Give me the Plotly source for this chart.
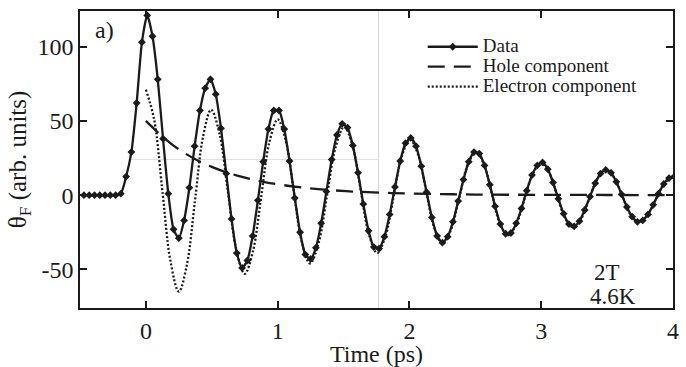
import plotly.graph_objects as go

# ---- Data ----
time_ps = [-0.47, -0.43, -0.39, -0.35, -0.31, -0.27, -0.23, -0.19, -0.15, -0.11, -0.07, -0.03,
           0.01, 0.05, 0.09, 0.13, 0.17, 0.21, 0.25, 0.29, 0.33, 0.37, 0.41, 0.45, 0.49,
           0.53, 0.57, 0.61, 0.65, 0.69, 0.73, 0.77, 0.81, 0.85, 0.89, 0.93, 0.97,
           1.01, 1.05, 1.09, 1.13, 1.17, 1.21, 1.25, 1.29, 1.33, 1.37, 1.41, 1.45, 1.49,
           1.53, 1.57, 1.61, 1.65, 1.69, 1.73, 1.77, 1.81, 1.85, 1.89, 1.93, 1.97,
           2.01, 2.05, 2.09, 2.13, 2.17, 2.21, 2.25, 2.29, 2.33, 2.37, 2.41, 2.45, 2.49,
           2.53, 2.57, 2.61, 2.65, 2.69, 2.73, 2.77, 2.81, 2.85, 2.89, 2.93, 2.97,
           3.01, 3.05, 3.09, 3.13, 3.17, 3.21, 3.25, 3.29, 3.33, 3.37, 3.41, 3.45, 3.49,
           3.53, 3.57, 3.61, 3.65, 3.69, 3.73, 3.77, 3.81, 3.85, 3.89, 3.93, 3.97, 4.01]

data_theta = [0, 0, 0, 0, 0, 0, 0, 1, 12.5, 29, 62, 103,
              121, 107, 78, 38, 1, -23, -29, -17, 5, 33, 57, 72, 78,
              68, 45, 14.5, -16, -39, -49, -44, -27.5, -3.5, 22.5, 44.5, 57,
              57, 44.5, 23, -2, -25, -40, -43, -35.5, -19, 2.5, 24, 40.5, 48,
              45.5, 33.5, 15, -6, -24, -35, -36, -28, -13, 5.5, 23, 35,
              38.5, 33, 19.5, 2, -15, -27.5, -32, -28, -18, -4, 10.5, 22.5, 29,
              28, 20, 7, -7.5, -19.5, -26, -25.5, -19, -9, 3, 13.5, 20,
              22, 17.5, 8.5, -2.5, -12.5, -19.5, -21, -17.5, -10, -1, 8, 14.5, 17,
              15, 9, 0.5, -8, -14.5, -18, -17, -13, -6.5, 1, 7.5, 11.5, 12.5]

hole_t = [0.0, 0.1, 0.2, 0.3, 0.4, 0.5, 0.6, 0.7, 0.8, 0.9, 1.0, 1.2, 1.4, 1.6, 1.8, 2.0,
          2.25, 2.5, 3.0, 3.5, 4.0]
hole_v = [50, 41.5, 34, 28, 23, 19, 15.7, 13, 10.7, 8.8, 7.3, 5, 3.4, 2.3, 1.6, 1.1,
          0.7, 0.4, 0.2, 0.1, 0]

elec_t = [0.0, 0.0625, 0.125, 0.1875, 0.25, 0.311, 0.3725, 0.434, 0.495, 0.559, 0.6225, 0.686,
          0.75, 0.8125, 0.875, 0.9375, 1.0, 1.061, 1.1225, 1.184, 1.245, 1.31, 1.375, 1.44,
          1.505, 1.5675, 1.63, 1.6925, 1.755, 1.8175, 1.88, 1.9425, 2.005, 2.066, 2.1275,
          2.189, 2.25, 2.314, 2.3775, 2.441, 2.505, 2.565, 2.625, 2.685, 2.745, 2.809,
          2.8725, 2.936, 3.0, 3.06, 3.12, 3.18, 3.24, 3.3025, 3.365, 3.4275, 3.49, 3.5525,
          3.615, 3.6775, 3.74, 3.805, 3.87, 3.935, 4.0]
elec_v = [71, 51, 3, -45, -65, -47, -3.75, 39.5, 57.5, 41.3, 2.25, -36.8,
          -53, -37.8, -1, 35.8, 51, 36.8, 2.5, -31.8, -46, -32.5, 0, 32.5,
          46, 33.5, 3.5, -26.5, -39, -27.8, -0.75, 26.3, 37.5, 27.2, 2.5,
          -22.2, -32.5, -23.5, -1.75, 20, 29, 20.8, 1, -18.8, -27, -19.9,
          -2.75, 14.4, 21.5, 15.2, 0, -15.2, -21.5, -15.9, -2.25, 11.4, 17, 11.9,
          -0.5, -12.9, -18, -13.5, -2.75, 8, 12.5]

x_ticks = [0, 1, 2, 3, 4]
y_ticks = [-50, 0, 50, 100]
y_ticktext = ["-50", "0", "50", "100"]

INK = "#1b1b1b"
FONT = "Liberation Serif"
LEG = '<span style="font-size:19px">{}</span>'

fig = go.Figure()
fig.add_trace(go.Scatter(x=elec_t, y=elec_v, mode="lines", name=LEG.format("Electron component"),
                         line=dict(color=INK, width=2.3, dash="2px,2px", shape="spline", smoothing=1.0),
                         legendrank=3))
fig.add_trace(go.Scatter(x=hole_t, y=hole_v, mode="lines", name=LEG.format("Hole component"),
                         line=dict(color=INK, width=2.3, dash="17px,9px", shape="spline"),
                         legendrank=2))
fig.add_trace(go.Scatter(x=time_ps, y=data_theta, mode="lines+markers", name=LEG.format("Data"),
                         line=dict(color=INK, width=2.3, shape="spline", smoothing=0.6),
                         marker=dict(symbol="diamond", size=6, color=INK),
                         legendrank=1))

# faint scan guide lines seen in the reference
fig.add_shape(type="line", xref="x", yref="paper", x0=1.765, x1=1.765, y0=0, y1=1,
              line=dict(color="#d6d6d6", width=1), layer="below")
fig.add_shape(type="line", xref="x", yref="y", x0=-0.11, x1=1.765, y0=24, y1=24,
              line=dict(color="#e0e0e0", width=1), layer="below")

axis_common = dict(showline=True, mirror="ticks", linecolor=INK, linewidth=1.5,
                   ticks="inside", ticklen=7, tickwidth=1.5, tickcolor=INK,
                   showgrid=False, zeroline=False,
                   tickfont=dict(family=FONT, size=24, color=INK))

fig.update_xaxes(range=[-0.5, 4.0], tickvals=x_ticks,
                 title=dict(text="Time (ps)", font=dict(family=FONT, size=24, color=INK), standoff=0),
                 **axis_common)
fig.update_yaxes(range=[-76, 124], tickvals=y_ticks, ticktext=y_ticktext,
                 title=dict(text="θ<sub>F</sub> (arb. units)", font=dict(family=FONT, size=25, color=INK), standoff=4),
                 **axis_common)

fig.add_annotation(text="a)", xref="paper", yref="paper", x=0.022, y=0.937,
                   xanchor="left", yanchor="middle", showarrow=False,
                   font=dict(family=FONT, size=24, color=INK))
fig.add_annotation(text="2T", xref="paper", yref="paper", x=0.863, y=0.118,
                   xanchor="left", yanchor="middle", showarrow=False,
                   font=dict(family=FONT, size=23, color=INK))
fig.add_annotation(text="4.6K", xref="paper", yref="paper", x=0.856, y=0.04,
                   xanchor="left", yanchor="middle", showarrow=False,
                   font=dict(family=FONT, size=23, color=INK))

fig.update_layout(
    width=686, height=367,
    margin=dict(l=80, r=7, t=11, b=54),
    paper_bgcolor="white", plot_bgcolor="white",
    showlegend=True,
    legend=dict(x=0.578, y=0.93, xanchor="left", yanchor="top",
                bgcolor="rgba(0,0,0,0)", borderwidth=0,
                font=dict(family=FONT, size=13, color=INK),
                itemwidth=50, tracegroupgap=0),
)

fig.write_html("out.html")
